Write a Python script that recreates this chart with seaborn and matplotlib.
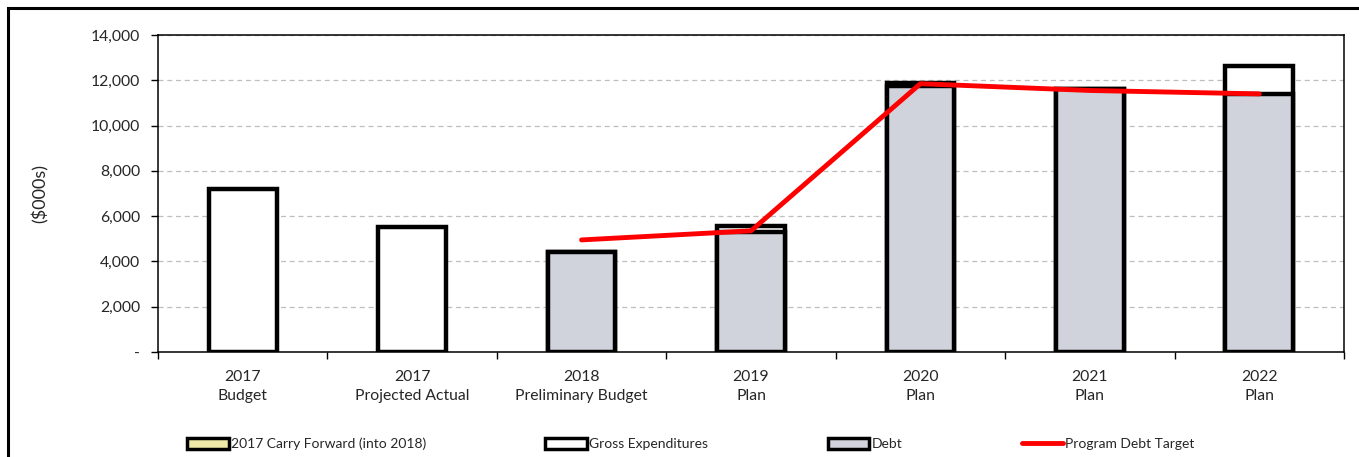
import matplotlib
matplotlib.use("Agg")
import matplotlib.pyplot as plt
import seaborn as sns
import pandas as pd
import numpy as np
from matplotlib.patches import Patch, Rectangle
from matplotlib.lines import Line2D
from matplotlib.ticker import FuncFormatter, MultipleLocator

categories = ["2017\nBudget", "2017\nProjected Actual", "2018\nPreliminary Budget",
              "2019\nPlan", "2020\nPlan", "2021\nPlan", "2022\nPlan"]
gross_expenditures = [7200, 5500, 4400, 5550, 11900, 11600, 12650]
debt = [np.nan, np.nan, 4400, 5300, 11750, 11600, 11400]
carry_forward = [0, 0, 0, 0, 0, 0, 0]
debt_target = [np.nan, np.nan, 4950, 5350, 11850, 11550, 11400]
legend_labels = ["2017 Carry Forward (into 2018)", "Gross Expenditures", "Debt", "Program Debt Target"]

df = pd.DataFrame({"cat": categories, "gross": gross_expenditures, "debt": debt,
                   "target": debt_target})

sns.set_theme(style="white")
plt.rcParams['font.family'] = ['Lato', 'DejaVu Sans']

fig = plt.figure(figsize=(13.59, 4.57), dpi=100)
ax = fig.add_axes([158/1359, 1-352/457, (1344-158)/1359, (352-35)/457])

edge_lw = 3.2
sns.barplot(data=df, x="cat", y="gross", order=categories, color="white",
            edgecolor="black", linewidth=edge_lw, width=0.4, ax=ax, saturation=1, zorder=3)
sns.barplot(data=df, x="cat", y="debt", order=categories, color="#D0D3DB",
            edgecolor="black", linewidth=edge_lw, width=0.4, ax=ax, saturation=1, zorder=4)
sns.pointplot(data=df, x="cat", y="target", order=categories, color="#FF0000",
              markers="", linestyles="-", errorbar=None, ax=ax, zorder=6)
for ln in ax.lines:
    ln.set_linewidth(3.5)
    ln.set_zorder(6)

ax.set_ylim(0, 14000)
ax.set_xlim(-0.5, len(categories) - 0.5)
ax.yaxis.set_major_locator(MultipleLocator(2000))
ax.yaxis.set_major_formatter(FuncFormatter(lambda v, p: "-" if v == 0 else f"{v:,.0f}"))
ax.set_xlabel("")
ax.set_ylabel("($000s)", fontsize=13, labelpad=30)
ax.yaxis.grid(True, linestyle=(0, (4, 3)), color="#BFBFBF", linewidth=0.9)
ax.set_axisbelow(True)

# x ticks at category boundaries
ax.set_xticks(np.arange(len(categories)), labels=categories)
for t in ax.get_xticklabels():
    t.set_linespacing(1.45)
ax.set_xticks(np.arange(-0.5, len(categories)), minor=True)
ax.tick_params(axis="x", which="major", length=0, labelsize=11.3, pad=13)
ax.tick_params(axis="x", which="minor", length=5, width=1, color="black", direction="out", bottom=True)
ax.tick_params(axis="y", which="major", length=5, width=1, color="black", direction="out",
               left=True, labelsize=11.3, pad=8)
for s in ax.spines.values():
    s.set_color("black")
    s.set_linewidth(1.1)
    s.set_visible(True)

# figure border
fig.patches.append(Rectangle((8/1359, -0.1), 1.2, 1 - 8/457 + 0.1, transform=fig.transFigure,
                             fill=False, edgecolor="black", linewidth=2.2, zorder=0))

handles = [
    Patch(facecolor="#EFE9A8", edgecolor="black", linewidth=2.5),
    Patch(facecolor="white", edgecolor="black", linewidth=2.5),
    Patch(facecolor="#D0D3DB", edgecolor="black", linewidth=2.5),
    Line2D([0], [0], color="#FF0000", linewidth=3.5),
]
fig.legend(handles, legend_labels, loc="center left", bbox_to_anchor=(180/1359, 1-444/457),
           ncol=4, frameon=False, handlelength=3.0, handleheight=0.9, handletextpad=0.15,
           columnspacing=8.6, borderpad=0,
           prop={"family": ["Lato", "DejaVu Sans"], "size": 10})

fig.savefig("out.png", dpi=100)
